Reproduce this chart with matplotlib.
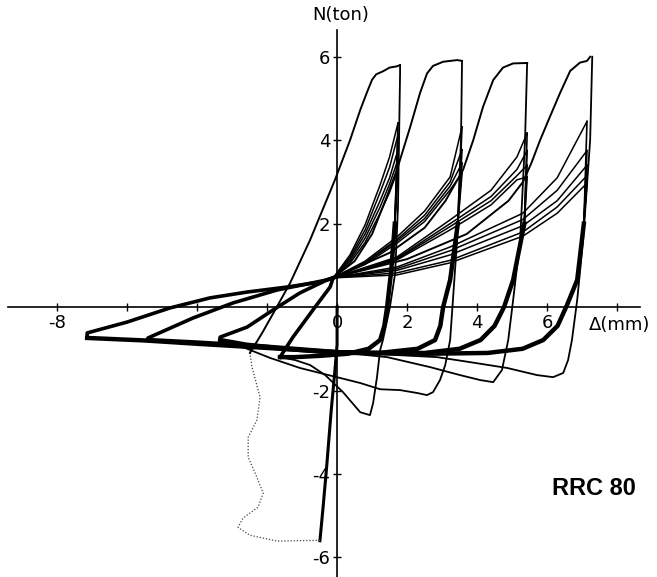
import matplotlib
matplotlib.use("Agg")
import matplotlib.pyplot as plt

# displacement (mm) / axial force (ton)

# first compression and the dotted (unrecorded) return
comp_x = [0, 0, -0.06, -0.17, -0.29, -0.40, -0.49]
comp_y = [0, -0.9, -1.5, -2.5, -3.75, -4.8, -5.6]
dot_x = [-0.49, -1.71, -2.49, -2.83, -2.69, -2.26, -2.11, -2.34, -2.54, -2.54, -2.29, -2.2, -2.43, -2.49]
dot_y = [-5.59, -5.61, -5.47, -5.28, -5.06, -4.8, -4.46, -3.98, -3.6, -3.12, -2.71, -2.16, -1.44, -1.1]

# first tension of each amplitude (envelopes)
env1_x = [-2.49, -2.14, -1.77, -1.34, -0.77, -0.06, 0.37, 0.66, 0.86, 1.0, 1.12, 1.31, 1.5, 1.71, 1.8]
env1_y = [-1.1, -0.62, -0.07, 0.58, 1.61, 3.05, 4.0, 4.72, 5.16, 5.45, 5.58, 5.65, 5.74, 5.77, 5.8]
env2_x = [-0.11, 0.5, 1.0, 1.4, 1.71, 2.09, 2.37, 2.57, 2.74, 3.03, 3.43, 3.57]
env2_y = [0.7, 1.1, 1.75, 2.6, 3.29, 4.32, 5.13, 5.6, 5.78, 5.88, 5.92, 5.9]
env3_x = [-0.11, 1.5, 2.5, 3.1, 3.6, 3.89, 4.17, 4.46, 4.74, 5.03, 5.43]
env3_y = [0.7, 1.3, 1.9, 2.55, 3.29, 4.0, 4.8, 5.44, 5.74, 5.84, 5.85]
env4_x = [-0.11, 2.0, 3.7, 4.9, 5.31, 5.55, 5.8, 6.05, 6.37, 6.66, 6.94, 7.14, 7.23]
env4_y = [0.7, 1.15, 1.75, 2.55, 3.0, 3.45, 4.0, 4.5, 5.13, 5.66, 5.86, 5.9, 6.0]

# unloading from each envelope peak, through the buckling dip, to the far tip
dip1_x = [1.8, 1.8, 1.74, 1.66, 1.51, 1.31, 1.23, 1.14, 1.03, 0.94, 0.66, 0.17, -0.34, -0.77, -1.2, -1.63]
dip1_y = [5.8, 5.61, 2.4, 0.82, 0.0, -0.79, -1.03, -1.68, -2.3, -2.59, -2.52, -2.04, -1.63, -1.39, -1.27, -1.2]
dip2_x = [3.57, 3.54, 3.43, 3.31, 3.23, 3.09, 2.94, 2.74, 2.57, 2.29, 1.8, 1.23, 0.66, 0.09, -0.49, -1.06, -1.91, -2.63, -3.34]
dip2_y = [5.88, 4.0, 1.61, 0.17, -0.79, -1.39, -1.75, -2.04, -2.11, -2.06, -1.99, -1.97, -1.82, -1.7, -1.58, -1.46, -1.22, -0.98, -0.82]
dip3_x = [5.43, 5.37, 5.23, 5.03, 4.89, 4.71, 4.46, 4.09, 3.51, 2.66, 1.43, 0.0, -1.63, -3.63, -5.4]
dip3_y = [5.85, 4.0, 1.61, 0.17, -0.79, -1.51, -1.8, -1.75, -1.63, -1.44, -1.2, -1.08, -0.98, -0.89, -0.79]
dip4_x = [7.29, 7.23, 7.03, 6.86, 6.71, 6.6, 6.46, 6.17, 5.71, 4.86, 3.8, 2.86, 1.23, 0.0, -1.63, -3.63, -5.54, -7.14]
dip4_y = [6.0, 4.0, 1.61, 0.17, -0.79, -1.27, -1.58, -1.68, -1.63, -1.46, -1.32, -1.2, -1.13, -1.08, -1.01, -0.89, -0.79, -0.74]

# reloading from the compression tip to the common pinch point
up1_x = [-1.63, -1.26, -0.69, -0.2, -0.11]
up1_y = [-1.2, -0.72, -0.07, 0.48, 0.7]
up2_x = [-3.34, -3.34, -2.57, -1.83, -1.06, -0.29, -0.11]
up2_y = [-0.79, -0.72, -0.48, -0.07, 0.34, 0.65, 0.7]
up3_x = [-5.4, -5.4, -4.11, -2.97, -1.71, -0.29, -0.11]
up3_y = [-0.79, -0.74, -0.26, 0.1, 0.41, 0.65, 0.7]
up4_x = [-7.14, -7.14, -6.0, -4.77, -3.63, -2.57, -1.43, -0.49, -0.11]
up4_y = [-0.74, -0.62, -0.36, -0.02, 0.22, 0.36, 0.48, 0.6, 0.7]

# repeated tension cycles (pinch point -> max displacement)
fan1_x = [-0.11, 0.37, 0.8, 1.23, 1.5, 1.74]
fan1_y = [[0.7, 1.25, 1.97, 2.93, 3.6, 4.41],
          [0.7, 1.2, 1.85, 2.75, 3.35, 4.12],
          [0.7, 1.15, 1.75, 2.55, 3.1, 3.77],
          [0.7, 1.1, 1.65, 2.4, 2.95, 3.53],
          [0.7, 1.05, 1.55, 2.25, 2.75, 3.3]]
fan2_x = [-0.11, 0.8, 1.71, 2.5, 3.23, 3.57]
fan2_y = [[0.7, 1.1, 1.68, 2.3, 3.12, 4.32],
          [0.7, 1.07, 1.62, 2.2, 3.0, 3.77],
          [0.7, 1.05, 1.58, 2.12, 2.9, 3.45],
          [0.7, 1.02, 1.53, 2.05, 2.81, 3.21]]
fan3_x = [-0.11, 1.71, 3.23, 4.4, 5.14, 5.43]
fan3_y = [[0.7, 1.2, 2.09, 2.8, 3.6, 4.17],
          [0.7, 1.17, 2.0, 2.65, 3.3, 3.75],
          [0.7, 1.15, 1.93, 2.55, 3.15, 3.4],
          [0.7, 1.13, 1.85, 2.45, 3.05, 3.12]]
fan4_x = [-0.11, 1.71, 3.23, 5.31, 6.29, 7.14]
fan4_y = [[0.7, 0.96, 1.44, 2.25, 3.1, 4.45],
          [0.7, 0.92, 1.35, 2.1, 2.8, 3.75],
          [0.7, 0.88, 1.25, 1.95, 2.55, 3.4],
          [0.7, 0.82, 1.12, 1.8, 2.4, 3.15],
          [0.7, 0.77, 1.06, 1.7, 2.25, 2.97]]

# unloading after the repeated cycles, back along the compression band
unl1_x = [1.65, 1.55, 1.43, 1.35, 1.23, 0.9, 0.3, -0.5, -1.2, -1.63]
unl1_y = [2.0, 0.9, 0.0, -0.45, -0.79, -1.0, -1.12, -1.17, -1.2, -1.2]
unl2_x = [3.45, 3.23, 3.03, 2.95, 2.8, 2.3, 1.2, 0.0, -1.5, -2.6, -3.34]
unl2_y = [2.0, 0.65, 0.0, -0.45, -0.79, -1.0, -1.1, -1.1, -1.0, -0.9, -0.79]
unl3_x = [5.35, 5.03, 4.77, 4.5, 4.1, 3.5, 2.5, 1.0, 0.0, -2.0, -4.0, -5.4]
unl3_y = [2.0, 0.65, 0.0, -0.45, -0.79, -1.0, -1.1, -1.1, -1.08, -0.95, -0.85, -0.79]
unl4_x = [7.05, 6.86, 6.57, 6.3, 5.89, 5.3, 4.3, 2.5, 1.0, 0.0, -2.0, -4.0, -5.5, -7.14]
unl4_y = [2.0, 0.65, 0.05, -0.45, -0.79, -1.0, -1.1, -1.12, -1.1, -1.08, -0.98, -0.88, -0.8, -0.74]

x_ticks = [-8, -6, -4, -2, 0, 2, 4, 6, 8]
x_labels = ['-8', '', '', '', '0', '2', '4', '6', '']
y_ticks = [-6, -4, -2, 2, 4, 6]
y_labels = ['-6', '-4', '-2', '2', '4', '6']

fig = plt.figure(figsize=(6.57, 5.77), dpi=100)
ax = fig.add_axes([0, 0, 1, 1])
ax.set_xlim(-9.63, 9.14)
ax.set_ylim(-6.47, 7.36)

k = 'black'
ax.plot(comp_x, comp_y, color=k, lw=2.2)
ax.plot(dot_x, dot_y, color='#444444', lw=0.9, ls=(0, (1, 1.5)))
for ex, ey in [(env1_x, env1_y), (env2_x, env2_y), (env3_x, env3_y), (env4_x, env4_y)]:
    ax.plot(ex, ey, color=k, lw=1.4)
for dx, dy in [(dip1_x, dip1_y), (dip2_x, dip2_y), (dip3_x, dip3_y), (dip4_x, dip4_y)]:
    ax.plot(dx, dy, color=k, lw=1.3)

groups = [(up1_x, up1_y, fan1_x, fan1_y, unl1_x, unl1_y),
          (up2_x, up2_y, fan2_x, fan2_y, unl2_x, unl2_y),
          (up3_x, up3_y, fan3_x, fan3_y, unl3_x, unl3_y),
          (up4_x, up4_y, fan4_x, fan4_y, unl4_x, unl4_y)]
for ux, uy, fx, fys, lx, ly in groups:
    ax.plot(ux, uy, color=k, lw=2.6)
    for fy in fys:
        ax.plot(fx, fy, color=k, lw=1.1)
        ax.plot([fx[-1]] + lx, [fy[-1]] + ly, color=k, lw=1.2)
    ax.plot(lx, ly, color=k, lw=3.2)

# axes through the origin
for s in ['top', 'right']:
    ax.spines[s].set_visible(False)
ax.spines['left'].set_position(('data', 0))
ax.spines['bottom'].set_position(('data', 0))
ax.spines['left'].set_bounds(-6.47, 6.64)
ax.spines['bottom'].set_bounds(-9.4, 8.66)
ax.spines['left'].set_linewidth(1.2)
ax.spines['bottom'].set_linewidth(1.2)
ax.set_xticks(x_ticks)
ax.set_xticklabels(x_labels, fontsize=13)
ax.set_yticks(y_ticks)
ax.set_yticklabels(y_labels, fontsize=13)
ax.tick_params(axis='both', direction='inout', length=6, width=1.0, pad=2)

ax.text(0.1, 7.0, 'N(ton)', fontsize=13, ha='center', va='center')
ax.text(7.2, -0.43, 'Δ(mm)', fontsize=13, ha='left', va='center')
ax.text(6.15, -4.35, 'RRC 80', fontsize=17, fontweight='bold', family='Liberation Sans',
        ha='left', va='center')

fig.savefig('out.png', dpi=100)
